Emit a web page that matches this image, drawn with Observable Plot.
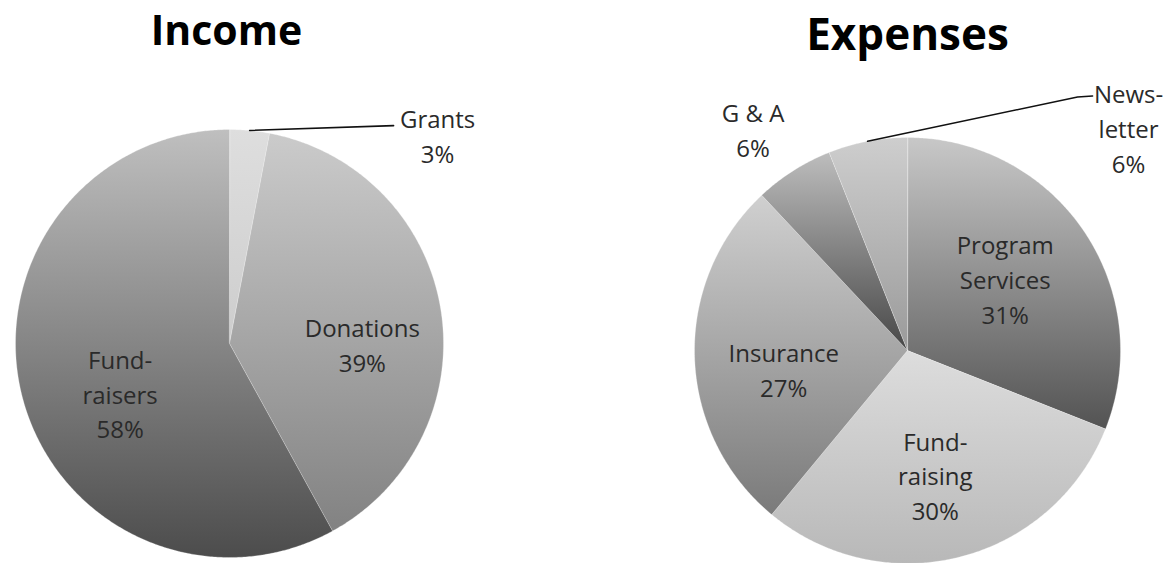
<!DOCTYPE html>
<html><head><meta charset="utf-8">
<script src="https://cdn.jsdelivr.net/npm/d3@7"></script>
<script src="https://cdn.jsdelivr.net/npm/@observablehq/plot@0.6"></script>
<style>
body{margin:0;background:#fff;}
#chart svg{display:block;}
</style>
</head><body><div id="chart"></div>
<script>
// ---- data ----
const titles = ["Income", "Expenses"];
const incomeCategories = ["Grants", "Donations", "Fund-raisers"];
const incomeLabels = ["Grants", "Donations", "Fund-\nraisers"];
const incomeValues = [3, 39, 58];
const expenseCategories = ["Program Services", "Fund-raising", "Insurance", "G & A", "Newsletter"];
const expenseLabels = ["Program\nServices", "Fund-\nraising", "Insurance", "G & A", "News-\nletter"];
const expenseValues = [31, 30, 27, 6, 6];

// ---- styles / layout ----
const incomeGradients = [["#dedede", "#cdcdcd"], ["#cbcbcb", "#828282"], ["#bfbfbf", "#4c4c4c"]];
const expenseGradients = [["#c8c8c8", "#535353"], ["#dddddd", "#b8b8b8"], ["#d0d0d0", "#7a7a7a"], ["#bdbdbd", "#474747"], ["#cecece", "#9a9a9a"]];
const pies = [
  {key: "inc", title: titles[0], cats: incomeCategories, labels: incomeLabels, values: incomeValues, grads: incomeGradients,
   cx: 229, cy: 343, r: 214, titleX: 226, titleY: 44, titleSize: 41,
   nudges: [[196, -81], [6, 20], [15, 17]], leaders: [0]},
  {key: "exp", title: titles[1], cats: expenseCategories, labels: expenseLabels, values: expenseValues, grads: expenseGradients,
   cx: 907, cy: 350, r: 213, titleX: 907, titleY: 49, titleSize: 44,
   nudges: [[-8, -1], [-4, 0], [4, 14], [-86, -114], [245, -98]], leaders: [4]}
];
const leaderEnds = {"inc-0": [[-44, -9]], "exp-4": [[-51, -30], [-36, -31]]};

const slicePts = [], labelRows = [], leaderPts = [], titleRows = [];
const gradDefs = [];
for (const p of pies) {
  const total = d3.sum(p.values);
  const arcs = d3.pie().sort(null).value(d => d)(p.values);
  titleRows.push({x: p.titleX, y: p.titleY, text: p.title, size: p.titleSize});
  arcs.forEach((a, i) => {
    const id = `${p.key}-${i}`;
    gradDefs.push({id: `g-${id}`, c: p.grads[i]});
    const fill = `url(#g-${id})`;
    slicePts.push({id, x: p.cx, y: p.cy, fill});
    const n = Math.max(2, Math.ceil((a.endAngle - a.startAngle) / (Math.PI / 360)));
    for (let k = 0; k <= n; k++) {
      const t = a.startAngle + (a.endAngle - a.startAngle) * k / n;
      slicePts.push({id, x: p.cx + p.r * Math.sin(t), y: p.cy - p.r * Math.cos(t), fill});
    }
    const mid = (a.startAngle + a.endAngle) / 2;
    const lx = p.cx + 0.6 * p.r * Math.sin(mid) + p.nudges[i][0];
    const ly = p.cy - 0.6 * p.r * Math.cos(mid) + p.nudges[i][1];
    const pct = Math.round(100 * p.values[i] / total) + "%";
    labelRows.push({x: lx, y: ly, text: `${p.labels[i]}\n${pct}`});
    if (p.leaders.includes(i)) {
      leaderPts.push({id, x: p.cx + p.r * Math.sin(mid), y: p.cy - p.r * Math.cos(mid)});
      for (const [dx, dy] of leaderEnds[id]) leaderPts.push({id, x: lx + dx, y: ly + dy});
    }
  });
}

const defsMark = () => {
  const defs = d3.create("svg:defs");
  for (const g of gradDefs) {
    const lg = defs.append("linearGradient").attr("id", g.id).attr("x1", 0).attr("y1", 0).attr("x2", 0).attr("y2", 1);
    lg.append("stop").attr("offset", "0%").attr("stop-color", g.c[0]);
    lg.append("stop").attr("offset", "100%").attr("stop-color", g.c[1]);
  }
  return defs.node();
};

const chart = Plot.plot({
  width: 1174, height: 563, margin: 0,
  x: {domain: [0, 1174], range: [0, 1174], axis: null},
  y: {domain: [0, 563], range: [0, 563], axis: null},
  color: {type: "identity"},
  style: {fontFamily: "'Open Sans', sans-serif", background: "#fff"},
  marks: [
    defsMark,
    Plot.line(slicePts, {x: "x", y: "y", z: "id", fill: "fill", stroke: "#ffffff", strokeOpacity: 0.35, strokeWidth: 0.8, curve: "linear-closed"}),
    Plot.line(leaderPts, {x: "x", y: "y", z: "id", stroke: "#111", strokeWidth: 1.6}),
    Plot.text(labelRows, {x: "x", y: "y", text: "text", fontSize: 24, lineHeight: 1.45, fill: "#2a2a2a", lineAnchor: "middle", textAnchor: "middle"}),
    Plot.text(titleRows, {x: "x", y: "y", text: "text", fontSize: d => d.size, fontWeight: "bold", fill: "#000", lineAnchor: "bottom", textAnchor: "middle"})
  ]
});
document.getElementById("chart").append(chart);
</script>
</body></html>
